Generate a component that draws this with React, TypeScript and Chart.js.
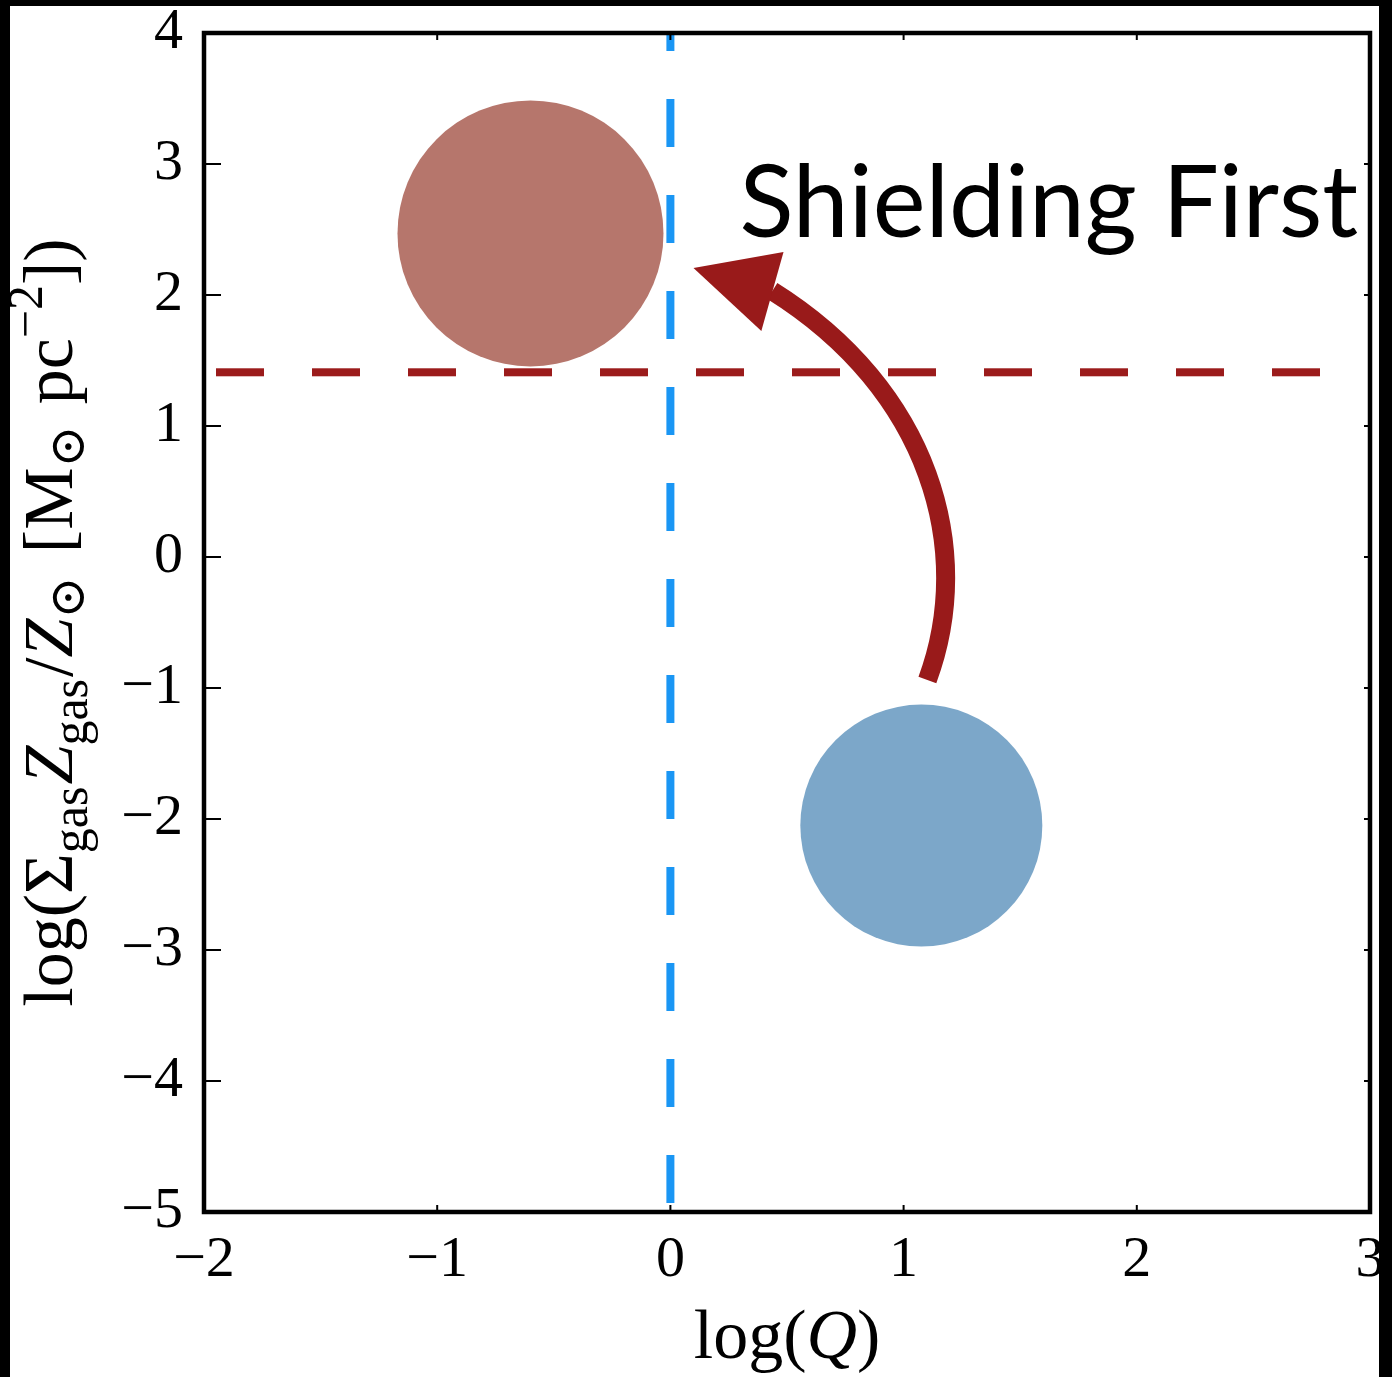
import { useEffect, useRef } from 'react';
import { Chart, registerables } from 'chart.js';

Chart.register(...registerables);

// ---- data ----
const X_TICKS = [-2, -1, 0, 1, 2, 3];
const Y_TICKS = [-5, -4, -3, -2, -1, 0, 1, 2, 3, 4];
const SHIELD_LEVEL = 1.41; // horizontal dashed threshold
const Q_LEVEL = 0; // vertical dashed threshold
const RED_BLOB = [{ x: -0.6, y: 2.47 }];
const BLUE_BLOB = [{ x: 1.076, y: -2.05 }];
const ARROW_PATH = [
  [1.102, -0.939],
  [1.308, 0.053],
  [1.115, 1.275],
  [0.437, 2.031],
];
const ARROW_HEAD = [
  [0.099, 2.206],
  [0.485, 2.328],
  [0.39, 1.725],
];
const LABEL_TEXT = 'Shielding First';
const LABEL_AT = { x: 0.296, y: 2.443 };

const SERIF = '"Liberation Serif", "DejaVu Serif", serif';
const fmt = (v: number) => (v < 0 ? '\u2212' + Math.abs(v) : String(v));

const zeroPad = (s: any) => {
  s.paddingLeft = 0;
  s.paddingRight = 0;
  s.paddingTop = 0;
  s.paddingBottom = 0;
};

const decorPlugin = {
  id: 'decor',
  beforeDraw(chart: any) {
    const { ctx, width, height } = chart;
    ctx.save();
    ctx.fillStyle = '#000';
    ctx.fillRect(0, 0, width, height);
    ctx.fillStyle = '#fff';
    ctx.fillRect(10, 6, 1369, height - 6);
    ctx.restore();
  },
  afterDatasetsDraw(chart: any) {
    const { ctx, chartArea: a, scales } = chart;
    const xs = scales.x;
    const ys = scales.y;
    const px = (v: number) => xs.getPixelForValue(v);
    const py = (v: number) => ys.getPixelForValue(v);
    ctx.save();
    // arrow
    ctx.strokeStyle = '#991a1a';
    ctx.fillStyle = '#991a1a';
    ctx.lineWidth = 19;
    ctx.lineCap = 'butt';
    ctx.beginPath();
    ctx.moveTo(px(ARROW_PATH[0][0]), py(ARROW_PATH[0][1]));
    ctx.bezierCurveTo(
      px(ARROW_PATH[1][0]), py(ARROW_PATH[1][1]),
      px(ARROW_PATH[2][0]), py(ARROW_PATH[2][1]),
      px(ARROW_PATH[3][0]), py(ARROW_PATH[3][1])
    );
    ctx.stroke();
    ctx.beginPath();
    ARROW_HEAD.forEach((p, i) => {
      if (i === 0) ctx.moveTo(px(p[0]), py(p[1]));
      else ctx.lineTo(px(p[0]), py(p[1]));
    });
    ctx.closePath();
    ctx.fill();

    // label
    ctx.fillStyle = '#000';
    ctx.font = '400 100px Lato';
    ctx.textAlign = 'left';
    ctx.textBaseline = 'alphabetic';
    ctx.fillText(LABEL_TEXT, px(LABEL_AT.x), py(LABEL_AT.y));

    // frame
    ctx.strokeStyle = '#000';
    ctx.lineWidth = 4.5;
    ctx.strokeRect(a.left, a.top, a.right - a.left, a.bottom - a.top);
    // ticks
    ctx.lineWidth = 2;
    ctx.beginPath();
    Y_TICKS.forEach((v) => {
      const y = py(v);
      ctx.moveTo(a.left, y);
      ctx.lineTo(a.left + 17, y);
      ctx.moveTo(a.right, y);
      ctx.lineTo(a.right - 6, y);
    });
    X_TICKS.forEach((v) => {
      const x = px(v);
      ctx.moveTo(x, a.bottom);
      ctx.lineTo(x, a.bottom - 7);
      ctx.moveTo(x, a.top);
      ctx.lineTo(x, a.top + 7);
    });
    ctx.stroke();
    ctx.restore();
  },
  afterDraw(chart: any) {
    const { ctx, chartArea: a } = chart;
    ctx.save();
    ctx.fillStyle = '#000';
    ctx.textBaseline = 'alphabetic';
    ctx.textAlign = 'left';
    const drawRuns = (runs: any[], cx: number, baseY: number) => {
      let total = 0;
      runs.forEach((r) => {
        ctx.font = r.font;
        r.w = ctx.measureText(r.t).width + (r.gap || 0);
        total += r.w;
      });
      let x = cx - total / 2;
      runs.forEach((r) => {
        ctx.font = r.font;
        ctx.fillText(r.t, x, baseY + (r.dy || 0));
        x += r.w;
      });
    };
    // x title
    const XF = 70;
    drawRuns(
      [
        { t: 'log(', font: `${XF}px ${SERIF}` },
        { t: 'Q', font: `italic ${XF}px ${SERIF}` },
        { t: ')', font: `${XF}px ${SERIF}` },
      ],
      (a.left + a.right) / 2,
      1358
    );
    // y title (rotated)
    const F = 70;
    const S = Math.round(F * 0.72);
    const up = `${F}px ${SERIF}`;
    const it = `italic ${F}px ${SERIF}`;
    const sm = `${S}px ${SERIF}`;
    ctx.translate(72, (a.top + a.bottom) / 2);
    ctx.rotate(-Math.PI / 2);
    drawRuns(
      [
        { t: 'log(\u03A3', font: up },
        { t: 'gas', font: sm, dy: 15, gap: 2 },
        { t: 'Z', font: it },
        { t: 'gas', font: sm, dy: 15, gap: 2 },
        { t: '/', font: up },
        { t: 'Z', font: it },
        { t: '\u2299', font: sm, dy: 12, gap: 6 },
        { t: ' [M', font: up },
        { t: '\u2299', font: sm, dy: 12, gap: 4 },
        { t: ' pc', font: up },
        { t: '\u22122', font: sm, dy: -30 },
        { t: '])', font: up },
      ],
      0,
      0
    );
    ctx.restore();
  },
};

export default function App() {
  const ref = useRef<HTMLCanvasElement | null>(null);
  useEffect(() => {
    document.body.style.margin = '0';
    document.body.style.background = '#000';
    const canvas = ref.current;
    if (!canvas) return;
    const chart = new Chart(canvas, {
      type: 'scatter',
      data: {
        datasets: [
          {
            data: [{ x: X_TICKS[0], y: SHIELD_LEVEL }, { x: X_TICKS[X_TICKS.length - 1], y: SHIELD_LEVEL }],
            showLine: true,
            borderColor: '#9b1b1b',
            borderWidth: 8,
            borderDash: [48, 48],
            borderDashOffset: 84,
            borderCapStyle: 'butt',
            pointRadius: 0,
            order: 1,
          },
          {
            data: [{ x: Q_LEVEL, y: Y_TICKS[0] }, { x: Q_LEVEL, y: Y_TICKS[Y_TICKS.length - 1] }],
            showLine: true,
            borderColor: '#1a96f4',
            borderWidth: 8,
            borderDash: [48, 48],
            borderDashOffset: 87,
            borderCapStyle: 'butt',
            pointRadius: 0,
            order: 0,
          },
          {
            data: RED_BLOB,
            pointRadius: 133,
            pointHoverRadius: 133,
            backgroundColor: '#b6766c',
            borderWidth: 0,
            order: 2,
          },
          {
            data: BLUE_BLOB,
            pointRadius: 121,
            pointHoverRadius: 121,
            backgroundColor: '#7ca7c9',
            borderWidth: 0,
            order: 2,
          },
        ] as any,
      },
      options: {
        animation: false,
        responsive: false,
        events: [],
        layout: { autoPadding: false, padding: { top: 33, right: 22, left: 0, bottom: 0 } },
        plugins: { legend: { display: false }, tooltip: { enabled: false } },
        scales: {
          x: {
            type: 'linear',
            min: X_TICKS[0],
            max: X_TICKS[X_TICKS.length - 1],
            afterFit: (s: any) => {
              s.height = 165;
              zeroPad(s);
            },
            afterBuildTicks: (s: any) => {
              s.ticks = X_TICKS.map((v) => ({ value: v }));
            },
            grid: { display: false, drawTicks: false },
            border: { display: false },
            ticks: {
              autoSkip: false,
              maxRotation: 0,
              padding: 14,
              color: '#000',
              font: { family: SERIF, size: 58 },
              callback: (v: any) => fmt(Number(v)),
            },
          },
          y: {
            type: 'linear',
            min: Y_TICKS[0],
            max: Y_TICKS[Y_TICKS.length - 1],
            afterFit: (s: any) => {
              s.width = 204;
              zeroPad(s);
            },
            afterBuildTicks: (s: any) => {
              s.ticks = Y_TICKS.map((v) => ({ value: v }));
            },
            grid: { display: false, drawTicks: false },
            border: { display: false },
            ticks: {
              autoSkip: false,
              padding: 21,
              color: '#000',
              font: { family: SERIF, size: 58 },
              callback: (v: any) => fmt(Number(v)),
            },
          },
        },
      } as any,
      plugins: [decorPlugin],
    });
    return () => chart.destroy();
  }, []);
  return (
    <div style={{ width: 1392, height: 1377, background: '#000' }}>
      <canvas ref={ref} width={1392} height={1377} style={{ display: 'block' }} />
    </div>
  );
}
